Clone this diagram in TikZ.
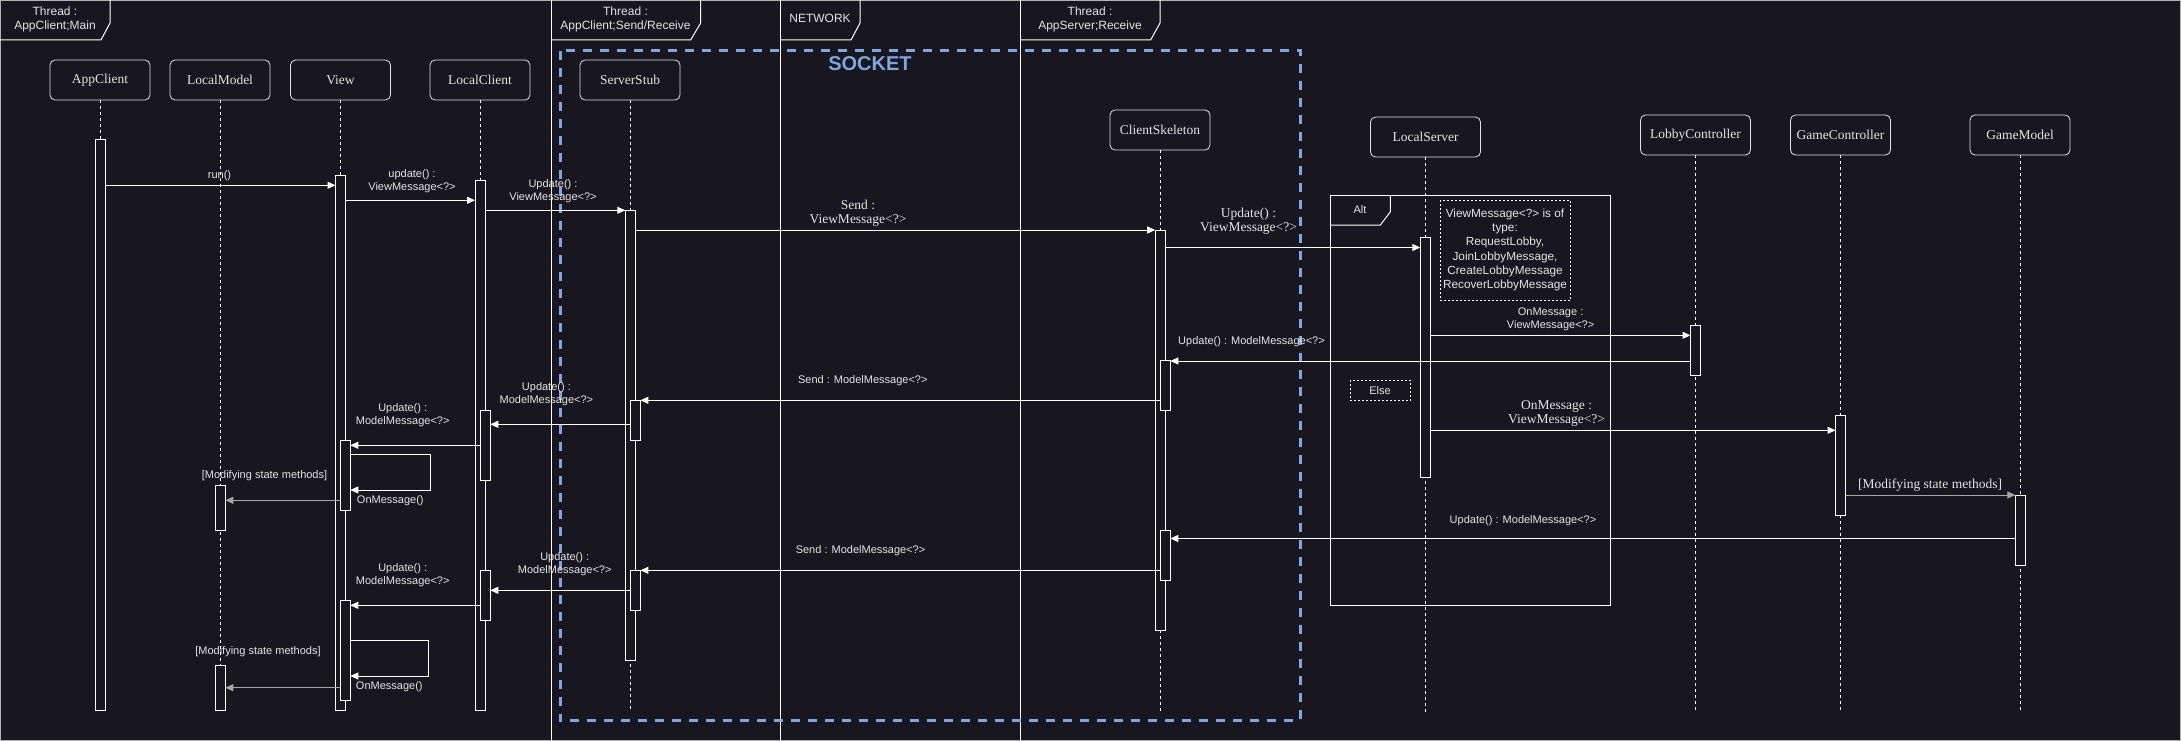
\documentclass[tikz,border=0pt]{standalone}
\usepackage{fontspec}
\setmainfont{Liberation Serif}
\setsansfont{Liberation Sans}
\usepackage{xcolor}
\usepackage{tikz}
\usetikzlibrary{arrows.meta}

\definecolor{bgdark}{HTML}{18161F}
\definecolor{ink}{HTML}{E4E4E4}
\definecolor{dimink}{HTML}{A6A6A6}
\definecolor{socketblue}{HTML}{7EA6E0}

\tikzset{
  head/.style={draw=ink, rounded corners=5pt, minimum height=40pt, minimum width=100pt, text=ink, font=\fontsize{13.5}{16}\selectfont, line width=0.8pt},
  actbox/.style={draw=white, fill=bgdark, minimum width=10pt, inner sep=0pt, outer sep=0pt, line width=1pt},
  lifeline/.style={draw=white, dash pattern=on 3pt off 3pt, line width=0.8pt},
  msg/.style={draw=white, line width=1pt, -{Triangle[length=8pt,width=7pt]}},
  modmsg/.style={msg, draw=dimink},
  lbl/.style={text=ink, font=\sffamily\fontsize{11}{13}\selectfont, align=center, inner sep=0pt},
  slbl/.style={text=ink, font=\fontsize{13.5}{14}\selectfont, align=center, inner sep=0pt},
  tlbl/.style={text=ink, font=\sffamily\fontsize{12}{14}\selectfont, align=center, inner sep=0pt},
  frameline/.style={draw=white, line width=1pt},
  notebox/.style={draw=white, dash pattern=on 2pt off 2pt, line width=0.8pt}
}

\begin{document}
\begin{tikzpicture}[x=1pt, y=-1pt]
\useasboundingbox (0,0) rectangle (2181,741);
\fill[bgdark] (0,0) rectangle (2181,741);
\draw[draw=gray!60, line width=1pt] (0.5,0.5) rectangle (2180.5,740.5);

%Threads
\draw[frameline] (551,0) -- (551,741);
\draw[frameline] (780.6,0) -- (780.6,741);
\draw[frameline] (1020,0) -- (1020,741);
\draw[frameline] (0,40) -- (101,40) -- (110,23) -- (110,0);
\draw[frameline] (551,40) -- (690.6,40) -- (700.7,23) -- (700.7,0);
\draw[frameline] (780.6,40) -- (851,40) -- (860,23) -- (860,0);
\draw[frameline] (1020,40) -- (1150.6,40) -- (1160,23) -- (1160,0);
\node[tlbl] (tMain) at (55,19) {Thread :\\AppClient;Main};
\node[tlbl] (tSend) at (625.5,19) {Thread :\\AppClient;Send/Receive};
\node[tlbl] (tNet) at (820,18.7) {NETWORK};
\node[tlbl] (tRecv) at (1090,19) {Thread :\\AppServer;Receive};

%Socket
\draw[socketblue, line width=3pt, dash pattern=on 9pt off 8pt] (560,50.7) rectangle (1300.5,720.3);
\node[text=socketblue, font=\sffamily\bfseries\fontsize{20}{24}\selectfont, inner sep=0pt] (socket) at (870,63.3) {SOCKET};

%Alt frame
\draw[frameline] (1330,195.3) rectangle (1610.5,605.3);
\draw[frameline] (1330,225) -- (1380.4,225) -- (1390.4,211.7) -- (1390.4,195.3);
\node[lbl] (alt) at (1360,209.5) {Alt};
\draw[notebox] (1350,380.3) rectangle (1410.4,400.3);
\node[lbl] (else) at (1380,390.3) {Else};
\draw[notebox] (1440,200) rectangle (1570,300.5);
\node[lbl, font=\sffamily\fontsize{11.8}{14.3}\selectfont] (types) at (1505,250)
  {ViewMessage<?> is of\\type:\\RequestLobby,\\JoinLobbyMessage,\\CreateLobbyMessage\\RecoverLobbyMessage};

%Heads
\node[head] (hApp) at (100,80) {AppClient};
\node[head] (hModel) at (220,80) {LocalModel};
\node[head] (hView) at (340.5,80) {View};
\node[head] (hClient) at (480,80) {LocalClient};
\node[head] (hStub) at (630,80) {ServerStub};
\node[head] (hSkel) at (1160,130) {ClientSkeleton};
\node[head, minimum width=110pt] (hServer) at (1425.5,137) {LocalServer};
\node[head, minimum width=110pt] (hLobby) at (1695.5,135) {LobbyController};
\node[head] (hGCtrl) at (1840.5,135) {GameController};
\node[head] (hGModel) at (2020,135) {GameModel};

%Lifelines
\foreach \h in {hApp,hModel,hView,hClient,hStub,hSkel,hServer,hLobby,hGCtrl,hGModel}
  \draw[lifeline] (\h.south) -- (\h |- 0,712);

%Activations
\node[actbox, minimum height=570pt] (aApp) at (100.5,425) {};
\node[actbox, minimum height=45pt] (aModelA) at (220.3,507.5) {};
\node[actbox, minimum height=45pt] (aModelB) at (220.3,687.5) {};
\node[actbox, minimum height=535pt] (aView) at (340.5,442.5) {};
\node[actbox, minimum height=70pt] (aViewA) at (345.3,475) {};
\node[actbox, minimum height=100pt] (aViewB) at (345.3,650) {};
\node[actbox, minimum height=530pt] (aClient) at (480,445) {};
\node[actbox, minimum height=70pt] (aClientA) at (485.3,445) {};
\node[actbox, minimum height=50pt] (aClientB) at (485.3,595) {};
\node[actbox, minimum height=450pt] (aStub) at (630.3,435) {};
\node[actbox, minimum height=40pt] (aStubA) at (635.4,420) {};
\node[actbox, minimum height=40pt] (aStubB) at (635.4,590) {};
\node[actbox, minimum height=400pt] (aSkel) at (1160.2,430) {};
\node[actbox, minimum height=50pt] (aSkelA) at (1165.3,385) {};
\node[actbox, minimum height=50pt] (aSkelB) at (1165.3,555) {};
\node[actbox, minimum height=240pt] (aServer) at (1425.3,357) {};
\node[actbox, minimum height=50pt] (aLobby) at (1695.5,350) {};
\node[actbox, minimum height=100pt] (aGCtrl) at (1840.5,465) {};
\node[actbox, minimum height=70pt] (aGModel) at (2020.3,530) {};

%Client side requests
\draw[msg] (aApp.east |- 0,185.3) -- (aView.west |- 0,185.3);
\node[lbl] (lRun) at (219.5,176) {run()};
\draw[msg] (aView.east |- 0,200.3) -- (aClient.west |- 0,200.3);
\node[lbl] (lUpd1) at (412,181.2) {update() :\\ViewMessage<?>};
\draw[msg] (aClient.east |- 0,210.3) -- (aStub.west |- 0,210.3);
\node[lbl] (lUpd2) at (553,190.8) {Update() :\\ViewMessage<?>};
\draw[msg] (aStub.east |- 0,230) -- (aSkel.west |- 0,230);
\node[slbl] (lSend) at (858,213.7) {Send :\\ViewMessage<?>};
\draw[msg] (aSkel.east |- 0,247.5) -- (aServer.west |- 0,247.5);
\node[slbl] (lUpd3) at (1248.5,221) {Update() :\\ViewMessage<?>};

%Server side
\draw[msg] (aServer.east |- 0,335.3) -- (aLobby.west |- 0,335.3);
\node[lbl] (lOnLobby) at (1550.6,319) {OnMessage :\\ViewMessage<?>};
\draw[msg] (aLobby.west |- 0,361) -- (aSkelA.east |- 0,361);
\node[lbl] (lUpdLobby) at (1251.5,341.5) {Update() : ModelMessage<?>};
\draw[msg] (aServer.east |- 0,430.3) -- (aGCtrl.west |- 0,430.3);
\node[slbl] (lOnGame) at (1556.6,413.7) {OnMessage :\\ViewMessage<?>};
\draw[modmsg] (aGCtrl.east |- 0,495) -- (aGModel.west |- 0,495);
\node[slbl] (lModGame) at (1930,485.5) {[Modifying state methods]};
\draw[msg] (aGModel.west |- 0,538.5) -- (aSkelB.east |- 0,538.5);
\node[lbl] (lUpdGame) at (1523,520.3) {Update() : ModelMessage<?>};

%First answer
\draw[msg] (aSkelA.west |- 0,400.3) -- (aStubA.east |- 0,400.3);
\node[lbl] (lSendA) at (862.8,380.3) {Send : ModelMessage<?>};
\draw[msg] (aStubA.west |- 0,424.3) -- (aClientA.east |- 0,424.3);
\node[lbl] (lUpdA1) at (546.4,393.8) {Update() :\\ModelMessage<?>};
\draw[msg] (aClientA.west |- 0,445.3) -- (aViewA.east |- 0,445.3);
\node[lbl] (lUpdA2) at (402.7,414.8) {Update() :\\ModelMessage<?>};
\draw[msg] (aViewA.east |- 0,454.3) -- (430.2,454.3) -- (430.2,490) -- (aViewA.east |- 0,490);
\node[lbl] (lOnA) at (390.3,500.3) {OnMessage()};
\draw[modmsg] (aViewA.west |- 0,500.3) -- (aModelA.east |- 0,500.3);
\node[lbl] (lModA) at (264.5,475.3) {[Modifying state methods]};

%Second answer
\draw[msg] (aSkelB.west |- 0,570.3) -- (aStubB.east |- 0,570.3);
\node[lbl] (lSendB) at (860.5,550.3) {Send : ModelMessage<?>};
\draw[msg] (aStubB.west |- 0,590.3) -- (aClientB.east |- 0,590.3);
\node[lbl] (lUpdB1) at (564.7,563.8) {Update() :\\ModelMessage<?>};
\draw[msg] (aClientB.west |- 0,605.3) -- (aViewB.east |- 0,605.3);
\node[lbl] (lUpdB2) at (402.7,574.8) {Update() :\\ModelMessage<?>};
\draw[msg] (aViewB.east |- 0,640.3) -- (428.8,640.3) -- (428.8,676) -- (aViewB.east |- 0,676);
\node[lbl] (lOnB) at (389.3,686.3) {OnMessage()};
\draw[modmsg] (aViewB.west |- 0,687.7) -- (aModelB.east |- 0,687.7);
\node[lbl] (lModB) at (258,651.3) {[Modifying state methods]};

\end{tikzpicture}
\end{document}
